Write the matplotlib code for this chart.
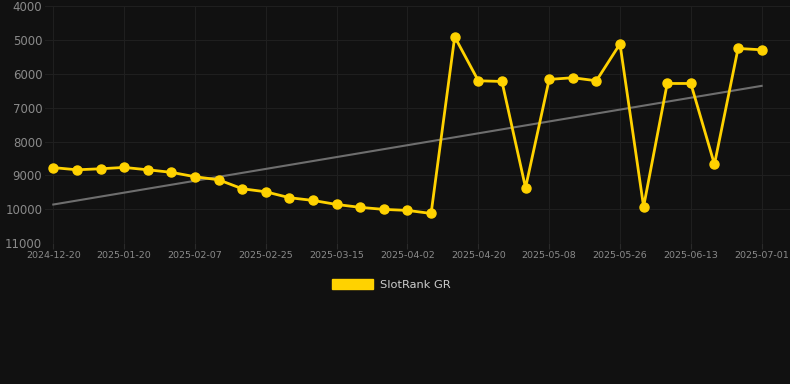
import numpy as np
import matplotlib
matplotlib.use("Agg")
import matplotlib.pyplot as plt
from matplotlib.patches import Patch

# rank-verdier lest av bildet, ett punkt per måling
rank = [8770, 8835, 8805, 8765, 8835, 8910, 9040, 9130, 9395, 9485,
        9660, 9740, 9860, 9945, 10005, 10035, 10125, 4905, 6205, 6225,
        9365, 6165, 6115, 6205, 5115, 9925, 6285, 6285, 8675, 5250, 5290]
tick_labels = ["2024-12-20", "2025-01-20", "2025-02-07", "2025-02-25", "2025-03-15",
               "2025-04-02", "2025-04-20", "2025-05-08", "2025-05-26", "2025-06-13",
               "2025-07-01"]
y_ticks = [4000, 5000, 6000, 7000, 8000, 9000, 10000, 11000]
serie_navn = "SlotRank GR"

bg = "#111111"
gul = "#FFD200"

x = np.arange(len(rank))
k, m = np.polyfit(x, rank, 1)

fig = plt.figure(figsize=(7.9, 3.84), dpi=100, facecolor=bg)
ax = fig.add_axes([0.057, 0.367, 0.943, 0.617], facecolor=bg)

ax.plot(x, k * x + m, color="#6e6e6e", lw=1.5, zorder=2)
ax.plot(x, rank, color=gul, lw=2.0, marker="o", ms=6.5, zorder=3)

ax.set_ylim(11000, 4000)
ax.set_yticks(y_ticks)
ax.set_xlim(-0.35, 31.2)
ax.set_xticks(x[::3])
ax.set_xticklabels(tick_labels)

ax.grid(True, color="#1f1f1f", lw=0.8)
ax.set_axisbelow(True)
for s in ax.spines.values():
    s.set_visible(False)
ax.tick_params(axis="y", length=0, pad=2, labelsize=8.5, labelcolor="#8a8a8a")
ax.tick_params(axis="x", length=4, color="#2a2a2a", pad=2, labelsize=6.8, labelcolor="#8a8a8a")

leg = fig.legend(handles=[Patch(color=gul, label=serie_navn)], loc="center",
                 bbox_to_anchor=(0.495, 1 - 284.5 / 384), frameon=False,
                 handlelength=3.6, handleheight=1.0, fontsize=8.2, handletextpad=0.6)
for t in leg.get_texts():
    t.set_color("#cccccc")

fig.savefig("out.png", dpi=100, facecolor=bg)
